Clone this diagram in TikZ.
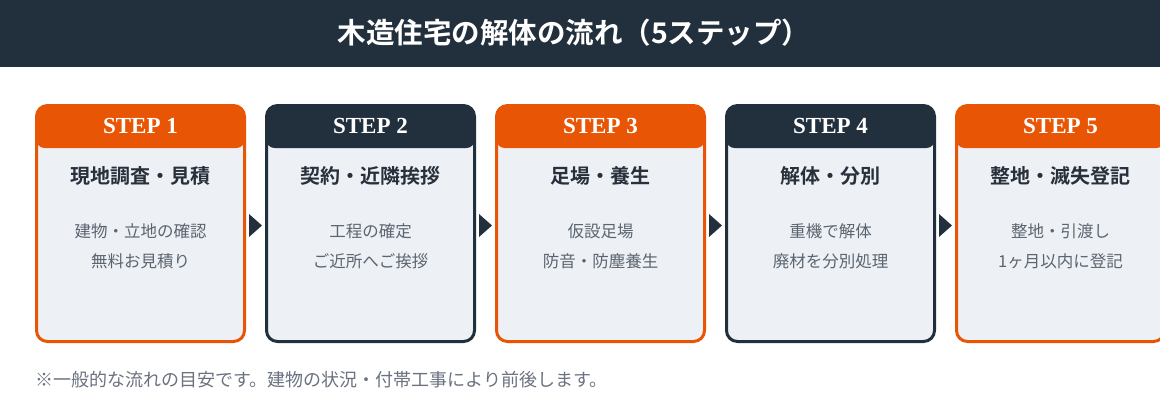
\documentclass[tikz,border=0pt]{standalone}
\usepackage{fontspec}
\setmainfont{Liberation Serif}
\newfontfamily\jp{Noto Sans CJK JP}
\newfontfamily\jpb{Noto Sans CJK JP Bold}
\definecolor{navy}{HTML}{22303D}
\definecolor{orng}{HTML}{E85505}
\definecolor{cardbg}{HTML}{EDF0F5}
\definecolor{bodytx}{HTML}{5B6570}
\definecolor{titletx}{HTML}{27303B}
\definecolor{notetx}{HTML}{6A7280}
\tikzset{
  card/.style={rectangle, rounded corners=11pt, line width=3pt, fill=cardbg,
    minimum width=208pt, minimum height=236pt, inner sep=0pt, draw=#1,
    path picture={\fill[#1, rounded corners=8pt]
      ([yshift=10pt]path picture bounding box.north west) rectangle
      ([yshift=-42.5pt]path picture bounding box.north east);}},
  steplbl/.style={text=white, font=\bfseries\fontsize{23}{26}\selectfont, inner sep=0pt},
  cardtitle/.style={text=titletx, font=\jpb\fontsize{20}{24}\selectfont, inner sep=0pt},
  cardbody/.style={text=bodytx, font=\jp\fontsize{16.5}{29}\selectfont, align=center, inner sep=0pt},
  tri/.style={fill=navy}
}
\begin{document}
\begin{tikzpicture}[x=1pt,y=-1pt]
\useasboundingbox (0,0) rectangle (1160,420);
\fill[white] (0,0) rectangle (1160,420);
\node[fill=navy, minimum width=1160pt, minimum height=67pt, inner sep=0pt, anchor=north west] (banner) at (0,0) {};
\node[text=white, font=\jpb\fontsize{28.5}{32}\selectfont, inner sep=0pt] (bannertitle) at (574,33) {木造住宅の解体の流れ（5ステップ）};

\foreach \i/\col/\ttl/\la/\lb in {
  1/orng/現地調査・見積/建物・立地の確認/無料お見積り,
  2/navy/契約・近隣挨拶/工程の確定/ご近所へご挨拶,
  3/orng/足場・養生/仮設足場/防音・防塵養生,
  4/navy/解体・分別/重機で解体/廃材を分別処理,
  5/orng/整地・滅失登記/整地・引渡し/1ヶ月以内に登記}{
  \pgfmathsetmacro\cx{140.5+230*(\i-1)}
  \node[card=\col] (card\i) at (\cx,223.5) {};
  \node[steplbl] (step\i) at (\cx,126) {STEP \i};
  \node[cardtitle] (title\i) at (\cx,176) {\ttl};
  \node[cardbody] (bodya\i) at (\cx,231.5) {\la};
  \node[cardbody] (bodyb\i) at (\cx,261) {\lb};
}
\foreach \i in {0,1,2,3}{
  \pgfmathsetmacro\tx{249+230*\i}
  \fill[tri] (\tx,214) -- (\tx+13,225.5) -- (\tx,237) -- cycle;
}
\node[text=notetx, font=\jp\fontsize{18}{21}\selectfont, anchor=west, inner sep=0pt] (note) at (35,380) {※一般的な流れの目安です。建物の状況・付帯工事により前後します。};
\end{tikzpicture}
\end{document}
